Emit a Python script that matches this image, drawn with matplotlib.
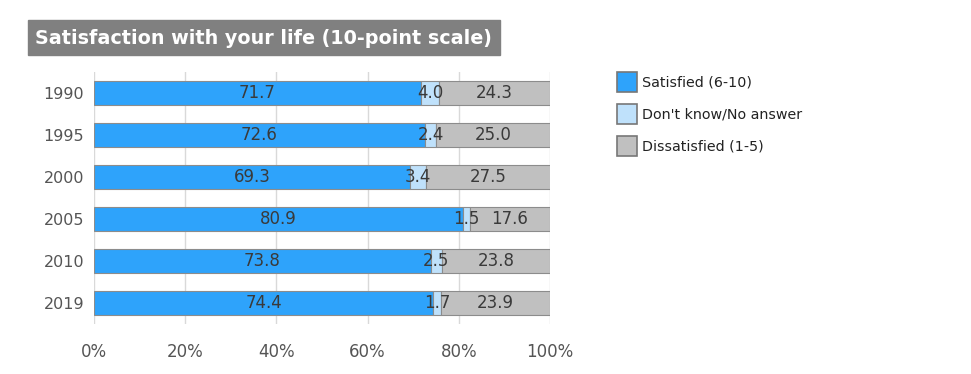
import numpy as np
import matplotlib.pyplot as plt
from matplotlib.patches import Rectangle

years = ["1990", "1995", "2000", "2005", "2010", "2019"]
satisfied = [71.7, 72.6, 69.3, 80.9, 73.8, 74.4]
dont_know = [4.0, 2.4, 3.4, 1.5, 2.5, 1.7]
dissatisfied = [24.3, 25.0, 27.5, 17.6, 23.8, 23.9]
labels = ["Satisfied (6-10)", "Don't know/No answer", "Dissatisfied (1-5)"]
colors = ["#2ea3fb", "#bfe1fb", "#c0c0c0"]

fig = plt.figure(figsize=(9.71, 3.74), dpi=100)
ax = fig.add_axes([94/971, 1-324/374, 456/971, 252/374])

y = np.arange(len(years))
series = [satisfied, dont_know, dissatisfied]
left = np.zeros(len(years))
for vals, col in zip(series, colors):
    vals = np.array(vals)
    ax.barh(y, vals, left=left, height=0.57, color=col, edgecolor="#8c8c8c",
            linewidth=0.8, zorder=2)
    for yi, l, v in zip(y, left, vals):
        ax.text(l + v/2, yi, f"{v:.1f}", ha="center", va="center",
                fontsize=12, color="#3a3a3a", zorder=3)
    left += vals

ax.set_xlim(0, 100)
ax.set_ylim(len(years) - 0.5, -0.5)
ax.set_yticks(y)
ax.set_yticklabels(years)
ax.set_xticks(np.arange(0, 101, 20))
ax.set_xticklabels([f"{v}%" for v in range(0, 101, 20)])
ax.tick_params(axis="both", length=0, labelsize=12, colors="#555555")
ax.tick_params(axis="y", labelsize=11.5, pad=7)
ax.tick_params(axis="x", pad=14)
ax.grid(axis="x", color="#d9d9d9", linewidth=1, zorder=0)
for s in ax.spines.values():
    s.set_visible(False)

# title box
fig.patches.append(Rectangle((28/971, 1-55/374), 472/971, 35/374,
                             transform=fig.transFigure, color="#808080", zorder=0))
fig.text(35/971, 1-38/374, "Satisfaction with your life (10-point scale)",
         color="white", fontsize=13.8, fontweight="bold", va="center", ha="left")

# legend
for i, (lab, col) in enumerate(zip(labels, colors)):
    yc = 82 + 32*i
    fig.patches.append(Rectangle((617/971, 1-(yc+10)/374), 20/971, 20/374,
                                 transform=fig.transFigure, facecolor=col,
                                 edgecolor="#777777", linewidth=1.2))
    fig.text(642/971, 1-yc/374, lab, fontsize=10.3, color="#222222",
             va="center", ha="left")

fig.savefig("out.png", dpi=100)
